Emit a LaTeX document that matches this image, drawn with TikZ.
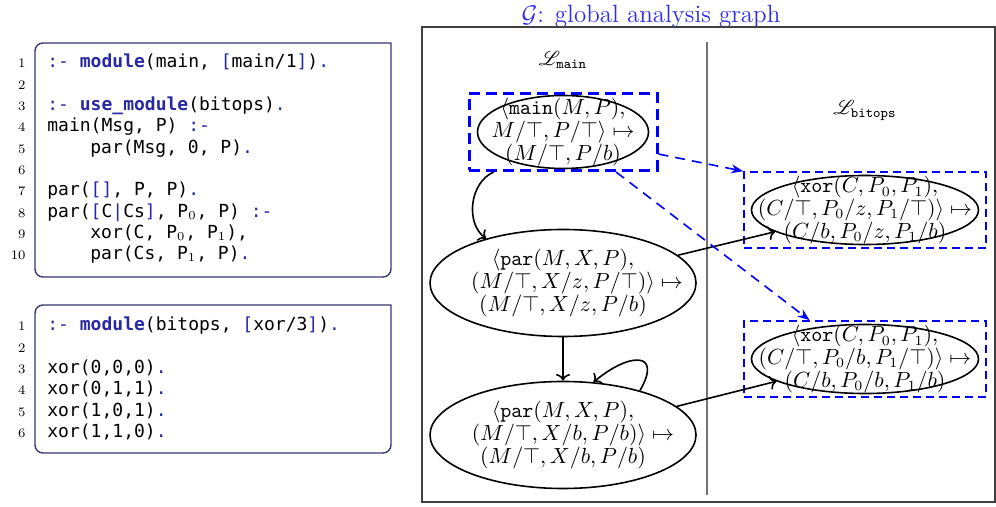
\documentclass[tikz,border=0pt]{standalone}
\usepackage{amsmath}
\usepackage{amssymb}
\usepackage{mathrsfs}
\usepackage{fontspec}
\newfontfamily\codefont{DejaVu Sans Mono}
\usetikzlibrary{arrows.meta}
\usetikzlibrary{shapes.geometric}

\definecolor{codeblue}{RGB}{40,40,165}
\definecolor{framenavy}{RGB}{55,55,110}
\definecolor{titleblue}{RGB}{45,45,235}

\newcommand{\kw}[1]{\textcolor{codeblue}{\textbf{#1}}}
\newcommand{\pn}[1]{\textcolor{codeblue}{#1}}

\begin{document}
\begin{tikzpicture}[x=0.5pt, y=-0.5pt, every node/.style={inner sep=0pt},
    src/.style={anchor=base west, font=\codefont\fontsize{9}{10}\selectfont},
    lineno/.style={anchor=base east, font=\fontsize{6.5}{7}\selectfont},
    codeframe/.style={draw=framenavy, line width=0.7pt},
    state/.style={draw, thick, ellipse},
    term/.style={align=center, font=\fontsize{10.5}{11.3}\selectfont},
    hl/.style={draw=blue, thick, dash pattern=on 4pt off 2.5pt},
    flow/.style={thick, ->},
    link/.style={draw=blue, thick, dash pattern=on 5pt off 3.5pt, -{Stealth[length=6pt]}}]
        \useasboundingbox (0,0) rectangle (996,507);
        % Define the spacing of the code lines
        \def\dy{21.3}

        % Draw the two code frames
        \draw[codeframe] (35,150) [rounded corners=4pt] -- (35,43) [sharp corners] -- (391,43) [rounded corners=4pt] -- (391,277) -- (35,277) -- cycle;
        \draw[codeframe] (35,380) [rounded corners=4pt] -- (35,305) [sharp corners] -- (391,305) [rounded corners=4pt] -- (391,453) -- (35,453) -- cycle;

        % Number the code lines
        \foreach \i in {1,...,10}
          \node[lineno] (la\i) at (26, {68+\dy*(\i-1)}) {\i};
        \foreach \i in {1,...,6}
          \node[lineno] (lb\i) at (26, {331+\dy*(\i-1)}) {\i};

        % Module main
        \node[src] (ca1) at (47,68) {\pn{:-} \kw{module}(main, \pn{[}main/1\pn{]})\pn{.}};
        \node[src] (ca3) at (47,{68+2*\dy}) {\pn{:-} \kw{use\_module}(bitops)\pn{.}};
        \node[src] (ca4) at (47,{68+3*\dy}) {main(Msg, P) \pn{:-}};
        \node[src] (ca5) at (90,{68+4*\dy}) {par(Msg, 0, P)\pn{.}};
        \node[src] (ca7) at (47,{68+6*\dy}) {par(\pn{[]}, P, P)\pn{.}};
        \node[src] (ca8) at (47,{68+7*\dy}) {par(\pn{[}C\pn{|}Cs\pn{]}, P$_0$, P) \pn{:-}};
        \node[src] (ca9) at (90,{68+8*\dy}) {xor(C, P$_0$, P$_1$),};
        \node[src] (ca10) at (90,{68+9*\dy}) {par(Cs, P$_1$, P)\pn{.}};

        % Module bitops
        \node[src] (cb1) at (47,331) {\pn{:-} \kw{module}(bitops, \pn{[}xor/3\pn{]})\pn{.}};
        \node[src] (cb3) at (47,{331+2*\dy}) {xor(0,0,0)\pn{.}};
        \node[src] (cb4) at (47,{331+3*\dy}) {xor(0,1,1)\pn{.}};
        \node[src] (cb5) at (47,{331+4*\dy}) {xor(1,0,1)\pn{.}};
        \node[src] (cb6) at (47,{331+5*\dy}) {xor(1,1,0)\pn{.}};

        % Draw the graph frame and the divider
        \node[font=\fontsize{12.5}{15}\selectfont, text=titleblue] (title) at (651,16) {$\mathcal{G}$: global analysis graph};
        \draw[black!75, line width=0.6pt] (422,27) rectangle (995,502);
        \draw[black!55, line width=0.8pt] (707,42) -- (707,495);
        \node (Lm) at (563,60) {$\mathscr{L}_{\texttt{main}}$};
        \node (Lb) at (865,111) {$\mathscr{L}_{\texttt{bitops}}$};

        % Draw the ellipses
        \node[state, minimum width=85.5pt, minimum height=36.5pt] (mn) at (563,132) {};
        \node[state, minimum width=133pt, minimum height=53.5pt] (pz) at (563,283) {};
        \node[state, minimum width=133pt, minimum height=53.5pt] (pb) at (563,435) {};
        \node[state, minimum width=113.5pt, minimum height=34.5pt] (xz) at (865,210) {};
        \node[state, minimum width=113.5pt, minimum height=34.5pt] (xb) at (865,359) {};

        \node[term] (mnt) at (mn) {$\langle\texttt{main}(M,P),$\\$M/\top,P/\top\rangle\mapsto$\\$(M/\top,P/b)$};
        \node[term] (pzt) at (pz) {$\langle\texttt{par}(M,X,P),$\\\hspace*{14pt}$(M/\top,X/z,P/\top)\rangle\mapsto$\\$(M/\top,X/z,P/b)$};
        \node[term] (pbt) at (pb) {$\langle\texttt{par}(M,X,P),$\\\hspace*{10pt}$(M/\top,X/b,P/b)\rangle\mapsto$\\$(M/\top,X/b,P/b)$};
        \node[term] (xzt) at (xz) {$\langle\texttt{xor}(C,P_0,P_1),$\\$(C/\top,P_0/z,P_1/\top)\rangle\mapsto$\\$(C/b,P_0/z,P_1/b)$};
        \node[term] (xbt) at (xb) {$\langle\texttt{xor}(C,P_0,P_1),$\\$(C/\top,P_0/b,P_1/\top)\rangle\mapsto$\\$(C/b,P_0/b,P_1/b)$};

        % Dashed boxes round the entries
        \node[hl, line width=1.5pt, dash pattern=on 5.5pt off 3pt, minimum width=94pt, minimum height=38.5pt] (mnbox) at (mn) {};
        \node[hl, minimum width=121pt, minimum height=38pt] (xzbox) at (xz) {};
        \node[hl, minimum width=121pt, minimum height=38pt] (xbbox) at (xb) {};

        % Draw the edges
        \draw[flow] (mnbox) to[bend right=60] (pz);
        \draw[flow] (pz) -- (pb);
        \draw[flow] (pb.30) to[out=60, in=40, looseness=2.5] (pb.60);
        \draw[flow] (pz) -- (xz);
        \draw[flow] (pb) -- (xb);

        \draw[link] (mnbox.-13.5) -- (xzbox.north west);
        \draw[link] (mnbox.-37.6) -- (xbbox.145);
      \end{tikzpicture}
\end{document}
